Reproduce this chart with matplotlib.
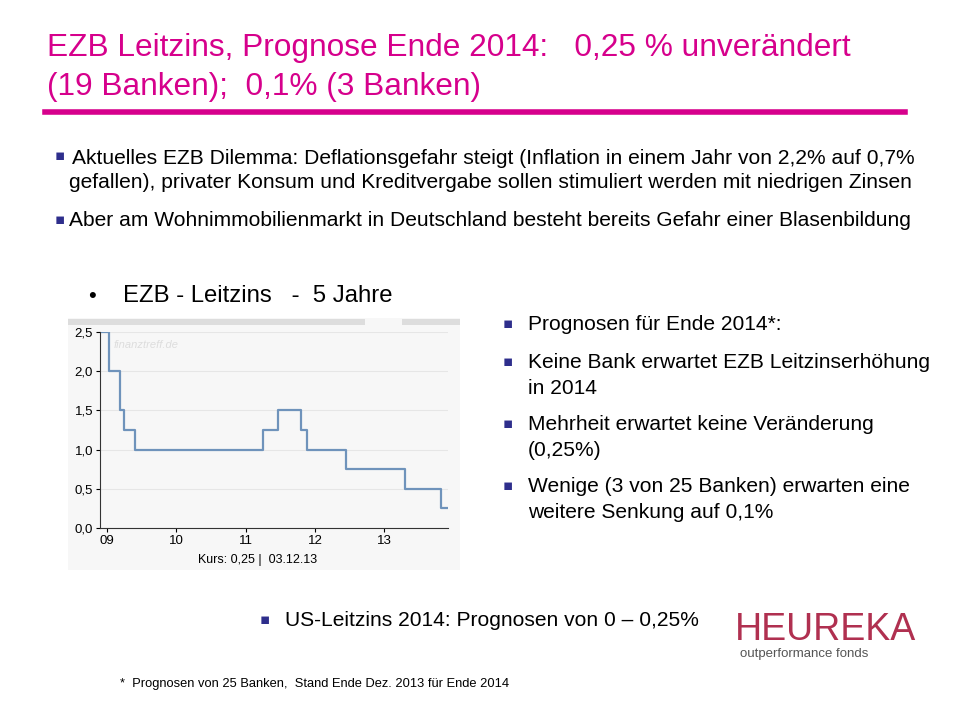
import matplotlib
matplotlib.use("Agg")
import matplotlib.pyplot as plt
from matplotlib.patches import Rectangle

# data: step dates (fractional years) and ECB rate values
step_x = [2008.9, 2009.03, 2009.19, 2009.25, 2009.41, 2011.25, 2011.47, 2011.8, 2011.88, 2012.45, 2013.3, 2013.82, 2013.9]
step_y = [2.5, 2.0, 1.5, 1.25, 1.0, 1.25, 1.5, 1.25, 1.0, 0.75, 0.5, 0.25, 0.25]
yticks = [0.0, 0.5, 1.0, 1.5, 2.0, 2.5]
ytick_labels = ["0,0", "0,5", "1,0", "1,5", "2,0", "2,5"]
xticks = [2009, 2010, 2011, 2012, 2013]
xtick_labels = ["09", "10", "11", "12", "13"]

W, H = 960, 720
fig = plt.figure(figsize=(9.6, 7.2), dpi=100)
fig.patch.set_facecolor("white")
F = "Liberation Sans"
TS = 15.1

def fx(x): return x / W
def fy(y): return 1 - y / H

magenta = "#D6008C"
fig.text(fx(47), fy(48), "EZB Leitzins, Prognose Ende 2014:   0,25 % unverändert",
         color=magenta, fontsize=22.8, family=F, va="center")
fig.text(fx(47), fy(87), "(19 Banken);  0,1% (3 Banken)",
         color=magenta, fontsize=22.8, family=F, va="center")
fig.add_artist(plt.Line2D([fx(45), fx(905)], [fy(112), fy(112)], color=magenta, lw=4))

navy = "#2E2E8C"
def bullet(x, y, txt, off=15):
    fig.text(fx(x), fy(y - 2), "\u25aa", color=navy, fontsize=11, family="DejaVu Sans", va="center")
    fig.text(fx(x + off), fy(y), txt, fontsize=TS, family=F, va="center")

bullet(55, 158, "Aktuelles EZB Dilemma: Deflationsgefahr steigt (Inflation in einem Jahr von 2,2% auf 0,7%", off=17)
fig.text(fx(69), fy(183), "gefallen), privater Konsum und Kreditvergabe sollen stimuliert werden mit niedrigen Zinsen",
         fontsize=TS, family=F, va="center")
bullet(55, 221, "Aber am Wohnimmobilienmarkt in Deutschland besteht bereits Gefahr einer Blasenbildung", off=14)

fig.text(fx(88), fy(296), "\u2022", fontsize=16, family=F, va="center")
fig.text(fx(123), fy(296), "EZB - Leitzins   -  5 Jahre", fontsize=17.2, family=F, va="center")

bullet(503, 325, "Prognosen für Ende 2014*:", off=25)
bullet(503, 363, "Keine Bank erwartet EZB Leitzinserhöhung", off=25)
fig.text(fx(528), fy(388), "in 2014", fontsize=TS, family=F, va="center")
bullet(503, 425, "Mehrheit erwartet keine Veränderung", off=25)
fig.text(fx(528), fy(450), "(0,25%)", fontsize=TS, family=F, va="center")
bullet(503, 487, "Wenige (3 von 25 Banken) erwarten eine", off=25)
fig.text(fx(528), fy(513), "weitere Senkung auf 0,1%", fontsize=TS, family=F, va="center")

bullet(260, 621, "US-Leitzins 2014: Prognosen von 0 \u2013 0,25%", off=25)
fig.text(fx(120), fy(684), "*  Prognosen von 25 Banken,  Stand Ende Dez. 2013 für Ende 2014",
         fontsize=9.3, family=F, va="center")

# logo text
fig.text(fx(735), fy(630), "HEUREKA", color="#B03050", fontsize=27, family=F, va="center")
fig.text(fx(740), fy(654), "outperformance fonds", color="#555555", fontsize=9.5, family=F, va="center")

# chart background panel
fig.add_artist(Rectangle((fx(68), fy(570)), (460 - 68) / W, (570 - 318) / H,
                         transform=fig.transFigure, facecolor="#F7F7F7", edgecolor="none", zorder=0))
fig.add_artist(Rectangle((fx(68), fy(325)), (365 - 68) / W, 6 / H,
                         transform=fig.transFigure, facecolor="#DDDDDD", edgecolor="none", zorder=0))
fig.add_artist(Rectangle((fx(402), fy(325)), (460 - 402) / W, 6 / H,
                         transform=fig.transFigure, facecolor="#DDDDDD", edgecolor="none", zorder=0))

ax = fig.add_axes([fx(100), fy(528), (448 - 100) / W, (528 - 332) / H])
ax.set_zorder(5)
ax.set_facecolor("#F7F7F7")
ax.step(step_x, step_y, where="post", color="#6F93BB", lw=1.6)
ax.set_xlim(2008.9, 2013.92)
ax.set_ylim(0, 2.5)
ax.set_yticks(yticks)
ax.set_yticklabels(ytick_labels, fontsize=9.5, family=F)
ax.set_xticks(xticks)
ax.set_xticklabels(xtick_labels, fontsize=9.5, family=F)
ax.grid(axis="y", color="#E6E6E6", lw=0.8)
for s in ["top", "right"]:
    ax.spines[s].set_visible(False)
ax.spines["left"].set_color("#333333")
ax.spines["bottom"].set_color("#333333")
ax.tick_params(length=3, pad=2)
ax.text(0.04, 0.96, "finanztreff.de", transform=ax.transAxes, color="#DDDDDD",
        fontsize=8, style="italic", family=F, va="top")
fig.text(fx(258), fy(560), "Kurs: 0,25 |  03.12.13", fontsize=9, family=F, ha="center", va="center", zorder=6)

fig.savefig("out.png", dpi=100)
